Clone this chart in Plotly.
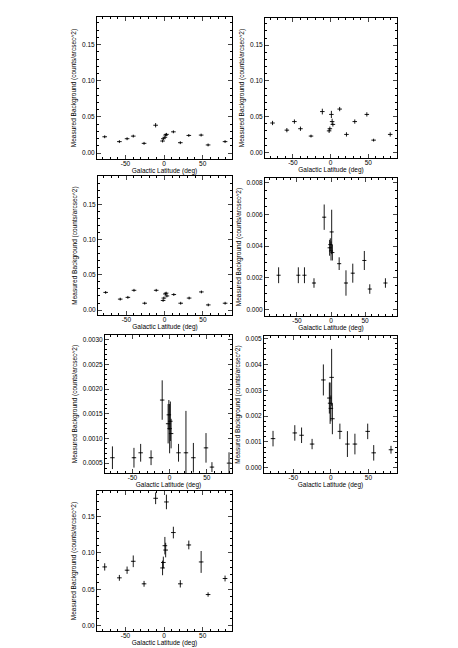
import plotly.graph_objects as go

# galactic latitudes (deg) of the fields
lat_a = [-77, -58, -48, -40, -26, -11, -2, -1, 1, 2, 3, 12, 21, 32, 48, 57, 79]
lat_a_err = [3, 3, 3, 3, 3, 3, 3, 3, 3, 3, 3, 3, 3, 3, 3, 3, 3]
lat_b = [-77, -48, -39, -25, -10, -2, -1, 0, 1, 2, 12, 22, 32, 49, 57, 80]
lat_b_err = [3, 3, 3, 3, 3, 3, 3, 3, 3, 3, 3, 3, 3, 3, 3, 3]

# panel 1
bg1 = [0.0227, 0.016, 0.020, 0.0236, 0.0136, 0.0386, 0.0168, 0.020, 0.022, 0.025, 0.026,
       0.0295, 0.0145, 0.0245, 0.025, 0.0114, 0.016]
bg1_err = [0.002, 0.002, 0.002, 0.002, 0.002, 0.003, 0.002, 0.002, 0.002, 0.002, 0.002,
           0.002, 0.002, 0.002, 0.002, 0.002, 0.002]
# panel 2
bg2 = [0.041, 0.031, 0.043, 0.033, 0.0227, 0.057, 0.030, 0.033, 0.053, 0.043, 0.039,
       0.0605, 0.025, 0.043, 0.053, 0.017, 0.025]
bg2_err = [0.003, 0.003, 0.003, 0.003, 0.002, 0.004, 0.003, 0.003, 0.005, 0.004, 0.003,
           0.003, 0.003, 0.003, 0.003, 0.002, 0.003]
# panel 3
bg3 = [0.025, 0.0155, 0.018, 0.028, 0.0097, 0.028, 0.0136, 0.017, 0.0228, 0.024, 0.020,
       0.022, 0.0097, 0.017, 0.0257, 0.0073, 0.0097]
bg3_err = [0.002, 0.002, 0.002, 0.002, 0.002, 0.002, 0.002, 0.002, 0.002, 0.002, 0.002,
           0.002, 0.002, 0.002, 0.002, 0.002, 0.002]
# panel 4
bg4 = [0.00217, 0.00217, 0.00217, 0.00168, 0.00583, 0.0039, 0.0041, 0.0037, 0.0049, 0.0036,
       0.0029, 0.00168, 0.0023, 0.0031, 0.0013, 0.00168]
bg4_err = [0.0005, 0.0005, 0.0005, 0.0003, 0.0008, 0.0005, 0.0004, 0.0006, 0.0014, 0.0005,
           0.0004, 0.0008, 0.0006, 0.0006, 0.0003, 0.0003]
# panel 5
bg5 = [0.00061, 0.00061, 0.00071, 0.00061, 0.00178, 0.00130, 0.00148, 0.00120, 0.00135, 0.00110,
       0.00071, 0.00071, 0.00061, 0.00081, 0.00042, 0.00050]
bg5_err = [0.00023, 0.0002, 0.00018, 0.00015, 0.0004, 0.0004, 0.0003, 0.0005, 0.0004, 0.0003,
           0.00018, 0.00085, 0.0003, 0.0003, 0.0001, 0.00022]
# panel 6
bg6 = [0.00113, 0.00135, 0.00126, 0.00092, 0.0034, 0.0027, 0.0025, 0.0023, 0.0035, 0.0019,
       0.00141, 0.00092, 0.00092, 0.00141, 0.00058, 0.00070]
bg6_err = [0.0003, 0.0003, 0.0003, 0.0002, 0.0006, 0.0006, 0.0008, 0.0005, 0.0011, 0.0006,
           0.0003, 0.0005, 0.0004, 0.0003, 0.0003, 0.00015]
# panel 7
bg7 = [0.0809, 0.0659, 0.0764, 0.0886, 0.0577, 0.175, 0.0795, 0.087, 0.110, 0.104, 0.170,
       0.128, 0.0577, 0.111, 0.0877, 0.043, 0.065]
bg7_err = [0.005, 0.004, 0.005, 0.008, 0.004, 0.008, 0.010, 0.008, 0.012, 0.010, 0.010,
           0.008, 0.005, 0.006, 0.015, 0.003, 0.004]

W, H = 458, 648
FONT = "Liberation Sans"

# (lat, lat_err, bg, bg_err, yrange, dtick, minor, fmt, xrange, (x0, x1, y0, y1) in px)
panels = [
    (lat_a, lat_a_err, bg1, bg1_err, [-0.008, 0.188], 0.05, 0.01, ".2f", [-87, 88], (89, 224, 9, 151)),
    (lat_a, lat_a_err, bg2, bg2_err, [-0.008, 0.188], 0.05, 0.01, ".2f", [-87, 88], (257, 389, 10, 150)),
    (lat_a, lat_a_err, bg3, bg3_err, [-0.007, 0.19], 0.05, 0.01, ".2f", [-87, 88], (90, 224, 168, 307)),
    (lat_b, lat_b_err, bg4, bg4_err, [-0.0004, 0.0083], 0.002, 0.0005, ".3f", [-97, 97], (257, 389, 170, 308)),
    (lat_b, lat_b_err, bg5, bg5_err, [0.0003, 0.0031], 0.0005, 0.0001, ".4f", [-87, 84], (97, 224, 327, 465)),
    (lat_b, lat_b_err, bg6, bg6_err, [-0.0002, 0.0051], 0.001, 0.0002, ".3f", [-89, 88], (256, 389, 328, 465)),
    (lat_a, lat_a_err, bg7, bg7_err, [-0.007, 0.185], 0.05, 0.01, ".2f", [-87, 88], (89, 224, 483, 623)),
]

fig = go.Figure()
layout = {}
for i, (lat, laterr, bg, bgerr, yr, dt, mn, fmt, xr, (x0, x1, y0, y1)) in enumerate(panels):
    n = "" if i == 0 else str(i + 1)
    fig.add_trace(go.Scatter(
        x=lat, y=bg, mode="markers",
        marker=dict(size=1, color="black"),
        error_x=dict(type="data", array=laterr, width=0, thickness=0.9, color="black"),
        error_y=dict(type="data", array=bgerr, width=0, thickness=0.9, color="black"),
        xaxis="x" + n, yaxis="y" + n, showlegend=False, hoverinfo="skip"))
    layout["xaxis" + n] = dict(
        domain=[x0 / W, x1 / W], anchor="y" + n, range=xr,
        tickvals=[-50, 0, 50], ticktext=["-50", "0", "50"],
        ticks="inside", ticklen=4, tickwidth=0.8, mirror="allticks",
        showline=True, linecolor="black", linewidth=1, showgrid=False, zeroline=False,
        minor=dict(dtick=10, tick0=0, ticks="inside", ticklen=2, tickcolor="black", showgrid=False),
        tickfont=dict(size=6.5, family=FONT, color="black"), ticklabelstandoff=-2,
        title=dict(text="Galactic Latitude (deg)", font=dict(size=6.5, family=FONT, color="black"), standoff=0))
    layout["yaxis" + n] = dict(
        domain=[1 - y1 / H, 1 - y0 / H], anchor="x" + n, range=yr,
        dtick=dt, tick0=0, tickformat=fmt,
        ticks="inside", ticklen=4, tickwidth=0.8, mirror="allticks",
        showline=True, linecolor="black", linewidth=1, showgrid=False, zeroline=False,
        minor=dict(dtick=mn, ticks="inside", ticklen=2, tickcolor="black", showgrid=False),
        tickfont=dict(size=6.5, family=FONT, color="black"),
        title=dict(text="Measured Background (counts/arcsec^2)",
                   font=dict(size=6.5, family=FONT, color="black"), standoff=4))

fig.update_layout(width=W, height=H, margin=dict(l=0, r=0, t=0, b=0),
                  paper_bgcolor="white", plot_bgcolor="white", **layout)
fig.write_html("out.html")
